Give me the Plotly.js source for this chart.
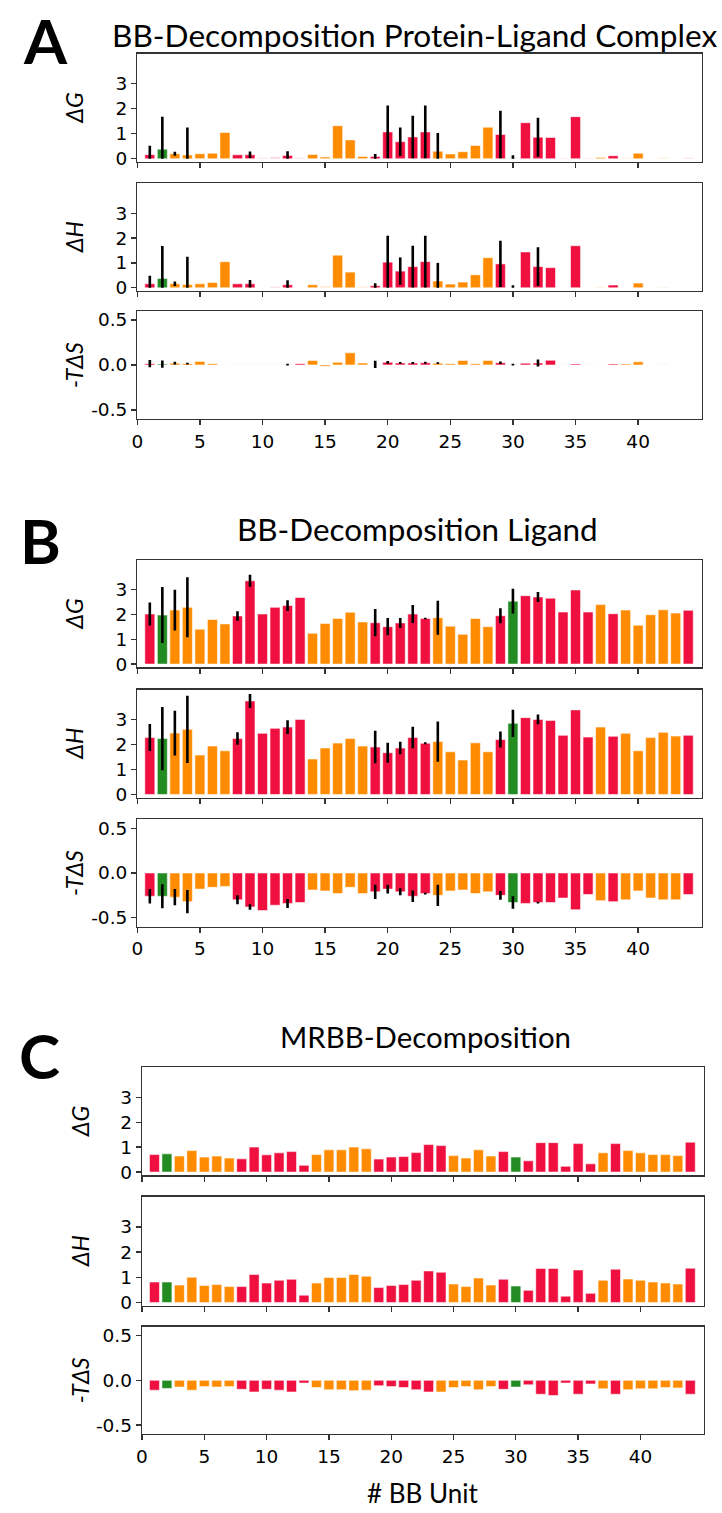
<!DOCTYPE html>
<html><head><meta charset="utf-8">
<script src="https://cdn.plot.ly/plotly-3.0.1.min.js"></script>
<style>html,body{margin:0;padding:0;background:#fff}</style>
</head><body><div id="chart" style="width:722px;height:1513px"></div>
<script>
const bbUnits = [1,2,3,4,5,6,7,8,9,10,11,12,13,14,15,16,17,18,19,20,21,22,23,24,25,26,27,28,29,30,31,32,33,34,35,36,37,38,39,40,41,42,43,44];

// r = red, o = orange, g = green
const typesAB = ['r','g','o','o','o','o','o','r','r','r','r','r','r','o','o','o','o','o','r','r','r','r','r','o','o','o','o','o','r','g','r','r','r','r','r','r','o','r','o','o','o','o','o','r'];
const typesC  = ['r','g','o','o','o','o','o','r','r','r','r','r','r','o','o','o','o','o','r','r','r','r','r','r','o','o','o','o','r','g','r','r','r','r','r','r','o','r','o','o','o','o','o','r'];
const typesCS = ['r','g','o','o','o','o','o','r','r','r','r','r','r','o','o','o','o','o','r','r','r','r','r','o','o','o','o','o','r','g','r','r','r','r','r','r','o','r','o','o','o','o','o','r'];

// Panel A: Protein-Ligand Complex
const aG    = [0.16,0.38,0.20,0.15,0.20,0.22,1.05,0.16,0.16,0.04,0.07,0.13,0.04,0.17,0.07,1.32,0.75,0.09,0.09,1.07,0.68,0.87,1.07,0.30,0.19,0.28,0.53,1.26,0.97,0.04,1.44,0.86,0.85,0.03,1.68,0.03,0.05,0.12,0.04,0.22,0,0.05,0,0.04];
const aGerr = [0.36,1.30,0.08,1.10,0,0,0,0,0.13,0,0,0.17,0,0,0,0,0,0,0.10,1.05,0.57,0.85,1.05,0.73,0,0,0,0,0.95,0.10,0,0.78,0,0,0,0,0,0,0,0,0,0,0,0];
const aGfaint = [10,11,13,30,34,36,39,42,44];
const aH    = [0.16,0.37,0.16,0.13,0.16,0.21,1.05,0.16,0.16,0,0.05,0.12,0,0.12,0.07,1.31,0.63,0.05,0.08,1.03,0.67,0.85,1.05,0.27,0.15,0.23,0.52,1.21,0.96,0,1.44,0.85,0.81,0,1.69,0,0.04,0.11,0,0.19,0,0.03,0,0];
const aHerr = [0.32,1.31,0.09,1.12,0,0,0,0,0.15,0,0,0.18,0,0,0,0,0,0,0.10,1.06,0.55,0.84,1.04,0.73,0,0,0,0,0.93,0.10,0,0.78,0,0,0,0,0,0,0,0,0,0,0,0];
const aHfaint = [11,15,18,37,42];
const aS    = [0.015,0.01,0.02,0.015,0.04,0.015,0.005,0.004,0.004,0.004,0.004,0.005,0.015,0.05,-0.015,0.03,0.135,0.022,0.006,0.03,0.022,0.022,0.025,0.02,0.015,0.05,0.015,0.05,0.025,0.004,0.02,0.022,0.052,0.004,0.012,0.004,0.006,0.012,0.012,0.035,0,0.008,0,0];
const aSerr = [0.04,0.04,0.015,0.01,0,0,0,0,0,0,0,0.01,0,0,0,0,0,0,0.04,0.015,0.01,0.01,0.01,0.01,0,0,0,0,0.015,0.01,0,0.04,0,0,0,0,0,0,0,0,0,0,0,0];
const aSfaint = [7,8,9,10,11,12,19,30,34,36,37,42];

// Panel B: Ligand
const bG    = [2.02,1.98,2.18,2.29,1.41,1.80,1.62,1.94,3.36,2.02,2.29,2.36,2.69,1.24,1.64,1.84,2.09,1.70,1.67,1.51,1.66,2.02,1.84,1.87,1.53,1.20,1.84,1.51,1.95,2.54,2.76,2.71,2.66,2.10,2.99,2.10,2.40,2.03,2.18,1.57,1.99,2.19,2.06,2.17];
const bGerr = [0.46,1.13,0.82,1.21,0,0,0,0.19,0.24,0,0,0.22,0,0,0,0,0,0,0.55,0.35,0.20,0.36,0.03,0.69,0,0,0,0,0.30,0.50,0,0.20,0,0,0,0,0,0,0,0,0,0,0,0];
const bH    = [2.28,2.24,2.46,2.61,1.58,1.94,1.75,2.24,3.75,2.45,2.65,2.70,3.01,1.42,1.86,2.06,2.24,1.94,1.90,1.67,1.86,2.28,2.05,2.12,1.71,1.38,2.07,1.71,2.20,2.85,3.08,3.01,2.97,2.37,3.39,2.30,2.70,2.33,2.45,1.75,2.28,2.49,2.34,2.37];
const bHerr = [0.54,1.27,0.90,1.35,0,0,0,0.25,0.28,0,0,0.28,0,0,0,0,0,0,0.65,0.40,0.25,0.43,0.04,0.81,0,0,0,0,0.32,0.55,0,0.20,0,0,0,0,0,0,0,0,0,0,0,0];
const bS    = [-0.26,-0.26,-0.27,-0.32,-0.18,-0.16,-0.15,-0.30,-0.38,-0.42,-0.36,-0.34,-0.33,-0.19,-0.20,-0.23,-0.16,-0.23,-0.21,-0.18,-0.21,-0.26,-0.23,-0.25,-0.20,-0.19,-0.23,-0.21,-0.25,-0.33,-0.34,-0.33,-0.33,-0.28,-0.41,-0.24,-0.31,-0.32,-0.30,-0.20,-0.28,-0.30,-0.30,-0.24];
const bSerr = [0.08,0.135,0.09,0.13,0,0,0,0.05,0.03,0,0,0.05,0,0,0,0,0,0,0.08,0.05,0.04,0.065,0.01,0.12,0,0,0,0,0.05,0.07,0,0.01,0,0,0,0,0,0,0,0,0,0,0,0];

// Panel C: MRBB
const cG = [0.70,0.73,0.64,0.86,0.60,0.64,0.56,0.53,1.00,0.69,0.77,0.82,0.27,0.70,0.89,0.89,1.00,0.93,0.52,0.60,0.62,0.78,1.10,1.06,0.66,0.56,0.89,0.64,0.82,0.60,0.45,1.18,1.18,0.23,1.14,0.33,0.77,1.14,0.86,0.77,0.70,0.70,0.66,1.20];
const cH = [0.81,0.81,0.69,1.00,0.67,0.71,0.63,0.63,1.11,0.77,0.88,0.92,0.29,0.77,0.99,0.99,1.11,1.04,0.59,0.67,0.71,0.88,1.25,1.20,0.73,0.63,0.97,0.69,0.92,0.65,0.48,1.35,1.35,0.25,1.29,0.36,0.88,1.32,0.93,0.88,0.81,0.77,0.73,1.36];
const cS = [-0.11,-0.09,-0.075,-0.11,-0.07,-0.075,-0.07,-0.10,-0.13,-0.10,-0.11,-0.13,-0.03,-0.08,-0.105,-0.105,-0.115,-0.11,-0.06,-0.07,-0.08,-0.105,-0.13,-0.13,-0.08,-0.07,-0.105,-0.07,-0.10,-0.075,-0.05,-0.155,-0.17,-0.03,-0.155,-0.04,-0.095,-0.155,-0.105,-0.095,-0.095,-0.08,-0.085,-0.155];

const yLabels = ['ΔG','ΔH','-TΔS'];
const panelTitles = ['BB-Decomposition Protein-Ligand Complex','BB-Decomposition Ligand','MRBB-Decomposition'];
const panelLetters = ['A','B','C'];
const xTicks = [0,5,10,15,20,25,30,35,40];
const eTicks = [0,1,2,3];
const sTicks = [-0.5,0,0.5];
const sTickText = ['-0.5','0.0','0.5'];

const COL = {r:'#EF1040', o:'#FF8C00', g:'#228B22'};

function faintOp(list){ return bbUnits.map(u => list.indexOf(u) >= 0 ? 0.25 : 1); }

const subplots = [
  {y:aG, err:aGerr, types:typesAB, op:faintOp(aGfaint), clip0:true},
  {y:aH, err:aHerr, types:typesAB, op:faintOp(aHfaint), clip0:true},
  {y:aS, err:aSerr, types:typesAB, op:faintOp(aSfaint)},
  {y:bG, err:bGerr, types:typesAB},
  {y:bH, err:bHerr, types:typesAB},
  {y:bS, err:bSerr, types:typesAB},
  {y:cG, types:typesC},
  {y:cH, types:typesC},
  {y:cS, types:typesCS}
];

const H = 1513, W = 722;
const boxes = [
  [53.5,162],[183.3,291],[311,419],
  [560,667.3],[689.7,797.7],[819.3,926.7],
  [1067.3,1175.3],[1196.7,1305.7],[1326.7,1434]
];
const xBoxes = [[137.3,702],[137.3,702],[142,704]];

const data = [];
const layout = {
  width: W, height: H, margin:{l:0,r:0,t:0,b:0},
  paper_bgcolor:'#fff', plot_bgcolor:'#fff', showlegend:false,
  font:{family:'DejaVu Sans', color:'#000'},
  annotations: []
};

subplots.forEach((s, k) => {
  const n = k+1;
  const panel = Math.floor(k/3);
  const row = k % 3;
  const tr = {
    type:'bar', x: bbUnits, y: s.y, width: 0.8,
    xaxis: 'x'+n, yaxis: 'y'+n,
    marker:{ color: s.types.map(t => COL[t]), opacity: s.op || 1,
             line:{color:'rgba(255,255,255,0.55)', width:1} },
    hoverinfo:'x+y'
  };
  if (s.err) {
    tr.error_y = { type:'data', symmetric:false, array: s.err,
      arrayminus: s.clip0 ? s.err.map((e,i)=>Math.min(e, Math.max(s.y[i],0))) : s.err,
      color:'#000', thickness:2.6, width:0, visible:true };
  }
  data.push(tr);
  const xb = xBoxes[panel];
  const b = boxes[k];
  const common = { showline:true, linecolor:'#333', linewidth:1.3, mirror:true,
    ticks:'outside', ticklen:5, tickwidth:1.3, tickcolor:'#333', showgrid:false, zeroline:false,
    tickfont:{family:'DejaVu Sans', size:18.5, color:'#000'} };
  layout['xaxis'+n] = Object.assign({}, common, {
    domain:[xb[0]/W, xb[1]/W], range:[0,45.1], anchor:'y'+n,
    tickmode:'array', tickvals:xTicks, showticklabels: row===2, fixedrange:true
  });
  const isS = row===2;
  layout['yaxis'+n] = Object.assign({}, common, {
    domain:[1-b[1]/H, 1-b[0]/H], range: isS ? [-0.6,0.6] : [-0.13,4.2], anchor:'x'+n,
    tickmode:'array', tickvals: isS ? sTicks : eTicks, ticktext: isS ? sTickText : eTicks.map(String),
    fixedrange:true
  });
  layout.annotations.push({
    xref:'paper', yref:'paper', x:(panel===2?80:74)/W, y:1-((b[0]+b[1])/2)/H,
    text:'<i>'+yLabels[row]+'</i>', showarrow:false, textangle:-90,
    xanchor:'center', yanchor:'middle',
    font:{family:'Lato', size:23, color:'#000'}
  });
});

const titleY = [35, 529, 1036];
const titleX = [415, 417, 425];
const titleSize = [31.6, 31.4, 29.4];
const letterY = [40, 540, 1055];
const letterX = [45, 40, 39];
for (let p=0;p<3;p++){
  layout.annotations.push({
    xref:'paper', yref:'paper', x:titleX[p]/W, y:1-titleY[p]/H,
    text:panelTitles[p], showarrow:false, xanchor:'center', yanchor:'middle',
    font:{family:'Lato', size:titleSize[p], color:'#000'}
  });
  layout.annotations.push({
    xref:'paper', yref:'paper', x:letterX[p]/W, y:1-letterY[p]/H,
    text:'<b>'+panelLetters[p]+'</b>', showarrow:false, xanchor:'center', yanchor:'middle',
    font:{family:'Lato', size:62, color:'#000'}
  });
}
layout.annotations.push({
  xref:'paper', yref:'paper', x:((142+704)/2)/W, y:1-1493/H,
  text:'# BB Unit', showarrow:false, xanchor:'center', yanchor:'middle',
  font:{family:'Lato', size:26, color:'#000'}
});

Plotly.newPlot('chart', data, layout, {staticPlot:true, displayModeBar:false});
</script></body></html>
